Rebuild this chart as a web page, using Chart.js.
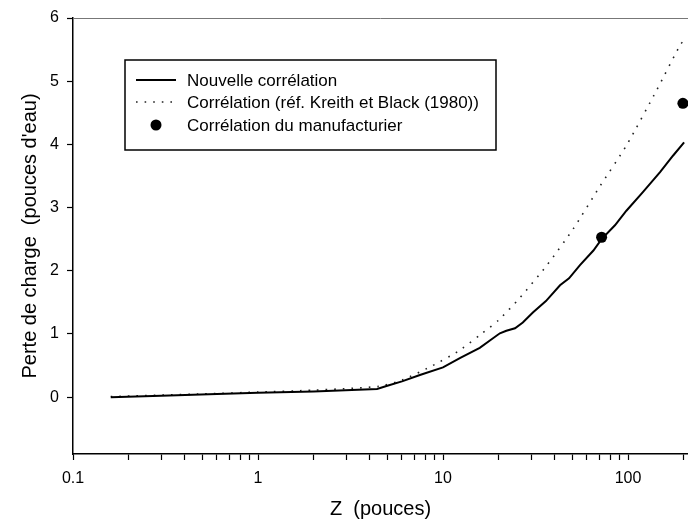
<!DOCTYPE html>
<html lang="fr">
<head>
<meta charset="utf-8">
<title>Perte de charge</title>
<script src="https://cdn.jsdelivr.net/npm/chart.js@4.4.0/dist/chart.umd.min.js"></script>
<style>
    html, body { margin: 0; padding: 0; background: #fff; }
    #wrap { width: 688px; height: 527px; }
</style>
</head>
<body>
<div id="wrap"><canvas id="perteChart" width="688" height="527"></canvas></div>
<script>
// Nouvelle corrélation
const zNouvelle = [0.16, 0.3, 0.6, 1, 2, 4.4, 5, 6, 7.5, 10, 12.4, 15.8, 18, 20.3, 22, 24.5, 27, 30.6, 36, 42.9, 48, 55, 65, 72, 85, 98, 120, 149, 175, 201];
const perteNouvelle = [0.00, 0.02, 0.05, 0.07, 0.09, 0.13, 0.18, 0.25, 0.35, 0.47, 0.62, 0.78, 0.90, 1.01, 1.05, 1.09, 1.18, 1.34, 1.52, 1.77, 1.88, 2.09, 2.32, 2.50, 2.72, 2.95, 3.24, 3.56, 3.82, 4.03];

// Corrélation (réf. Kreith et Black (1980))
const zKreith = [0.16, 0.5, 1, 2, 4.5, 6, 8.8, 12, 15.8, 20, 26, 36.5, 50.5, 70.6, 98, 143, 193, 205];
const perteKreith = [0.01, 0.05, 0.08, 0.11, 0.17, 0.27, 0.50, 0.72, 0.98, 1.22, 1.57, 2.09, 2.66, 3.34, 3.98, 4.86, 5.59, 5.66];

// Corrélation du manufacturier
const zManuf = [72, 198];
const perteManuf = [2.53, 4.65];

// graduations
const xTicks = [0.1, 0.2, 0.3, 0.4, 0.5, 0.6, 0.7, 0.8, 0.9, 1, 2, 3, 4, 5, 6, 7, 8, 9, 10, 20, 30, 40, 50, 60, 70, 80, 90, 100, 200];
const xLabels = ['0.1', '1', '10', '100'];
const yTicks = [0, 1, 2, 3, 4, 5, 6];

const legendLabels = ['Nouvelle corrélation', 'Corrélation (réf. Kreith et Black (1980))', 'Corrélation du manufacturier'];

const FONT = '"Liberation Sans", Arial, sans-serif';

function toPoints(xs, ys) {
    return xs.map((x, i) => ({ x: x, y: ys[i] }));
}

// cadre du haut + légende encadrée
const cadrePlugin = {
    id: 'cadre',
    afterDraw(chart) {
        const ctx = chart.ctx;
        const area = chart.chartArea;
        ctx.save();

        ctx.strokeStyle = '#777';
        ctx.lineWidth = 1;
        ctx.beginPath();
        ctx.moveTo(area.left, area.top + 0.5);
        ctx.lineTo(area.right, area.top + 0.5);
        ctx.stroke();

        // légende
        const box = { x: 125, y: 60, w: 371, h: 90 };
        ctx.fillStyle = '#fff';
        ctx.fillRect(box.x, box.y, box.w, box.h);
        ctx.strokeStyle = '#000';
        ctx.lineWidth = 1.5;
        ctx.strokeRect(box.x, box.y, box.w, box.h);

        const rows = [80, 102, 125];
        const textX = 187;
        ctx.font = '17px ' + FONT;
        ctx.fillStyle = '#000';
        ctx.textBaseline = 'middle';
        ctx.textAlign = 'left';

        const ds = chart.data.datasets;
        // trait plein
        ctx.strokeStyle = ds[0].borderColor;
        ctx.lineWidth = ds[0].borderWidth;
        ctx.beginPath();
        ctx.moveTo(136, rows[0]);
        ctx.lineTo(176, rows[0]);
        ctx.stroke();
        // pointillé
        ctx.strokeStyle = ds[1].borderColor;
        ctx.lineWidth = ds[1].borderWidth;
        ctx.setLineDash(ds[1].borderDash);
        ctx.beginPath();
        ctx.moveTo(136, rows[1]);
        ctx.lineTo(178, rows[1]);
        ctx.stroke();
        ctx.setLineDash([]);
        // point
        ctx.fillStyle = ds[2].backgroundColor;
        ctx.beginPath();
        ctx.arc(156, rows[2], ds[2].pointRadius, 0, Math.PI * 2);
        ctx.fill();

        ctx.fillStyle = '#000';
        legendLabels.forEach((txt, i) => {
            ctx.fillText(txt, textX, rows[i] + 1);
        });
        ctx.restore();
    }
};

const ctx = document.getElementById('perteChart').getContext('2d');
const perteChart = new Chart(ctx, {
    type: 'scatter',
    data: {
        datasets: [{
            label: legendLabels[0],
            data: toPoints(zNouvelle, perteNouvelle),
            showLine: true,
            borderColor: '#000',
            borderWidth: 2,
            pointRadius: 0,
            tension: 0
        }, {
            label: legendLabels[1],
            data: toPoints(zKreith, perteKreith),
            showLine: true,
            borderColor: '#222',
            borderWidth: 1.6,
            borderDash: [1.6, 7],
            pointRadius: 0,
            tension: 0.2
        }, {
            label: legendLabels[2],
            data: toPoints(zManuf, perteManuf),
            showLine: false,
            backgroundColor: '#000',
            borderColor: '#000',
            pointRadius: 5.5,
            pointBorderWidth: 0,
            clip: false
        }]
    },
    options: {
        responsive: false,
        animation: false,
        devicePixelRatio: 1,
        layout: { autoPadding: false, padding: { top: 18, right: 0, bottom: 0, left: 0 } },
        plugins: {
            legend: { display: false },
            tooltip: { enabled: false }
        },
        scales: {
            x: {
                type: 'logarithmic',
                min: 0.1,
                max: 211,
                afterBuildTicks: function(scale) {
                    scale.ticks = xTicks.map(v => ({ value: v }));
                },
                afterFit: function(scale) {
                    scale.height = 73;
                    scale.paddingLeft = 0;
                    scale.paddingRight = 0;
                },
                grid: {
                    drawOnChartArea: false,
                    drawTicks: true,
                    tickLength: 6,
                    tickColor: '#000',
                    tickWidth: 1.2
                },
                border: { display: true, color: '#000', width: 1.5 },
                ticks: {
                    autoSkip: false,
                    maxRotation: 0,
                    padding: 9,
                    color: '#000',
                    font: { family: FONT, size: 16 },
                    callback: function(value) {
                        const s = String(value);
                        return xLabels.includes(s) ? s : '';
                    }
                },
                title: {
                    display: true,
                    text: 'Z  (pouces)',
                    color: '#000',
                    font: { family: FONT, size: 20 },
                    padding: { top: 0, bottom: 6 }
                }
            },
            y: {
                min: -0.9,
                max: 6,
                afterBuildTicks: function(scale) {
                    scale.ticks = yTicks.map(v => ({ value: v }));
                },
                afterFit: function(scale) {
                    scale.width = 73;
                    scale.paddingTop = 0;
                    scale.paddingBottom = 0;
                },
                grid: {
                    drawOnChartArea: false,
                    drawTicks: true,
                    tickLength: 6,
                    tickColor: '#000',
                    tickWidth: 1.2
                },
                border: { display: true, color: '#000', width: 1.5 },
                ticks: {
                    padding: 8,
                    color: '#000',
                    font: { family: FONT, size: 16 },
                    callback: function(value) {
                        return String(value);
                    }
                },
                title: {
                    display: true,
                    text: "Perte de charge  (pouces d'eau)",
                    color: '#000',
                    font: { family: FONT, size: 20 },
                    padding: { top: 18, bottom: 0 }
                }
            }
        }
    },
    plugins: [cadrePlugin]
});
</script>
</body>
</html>
